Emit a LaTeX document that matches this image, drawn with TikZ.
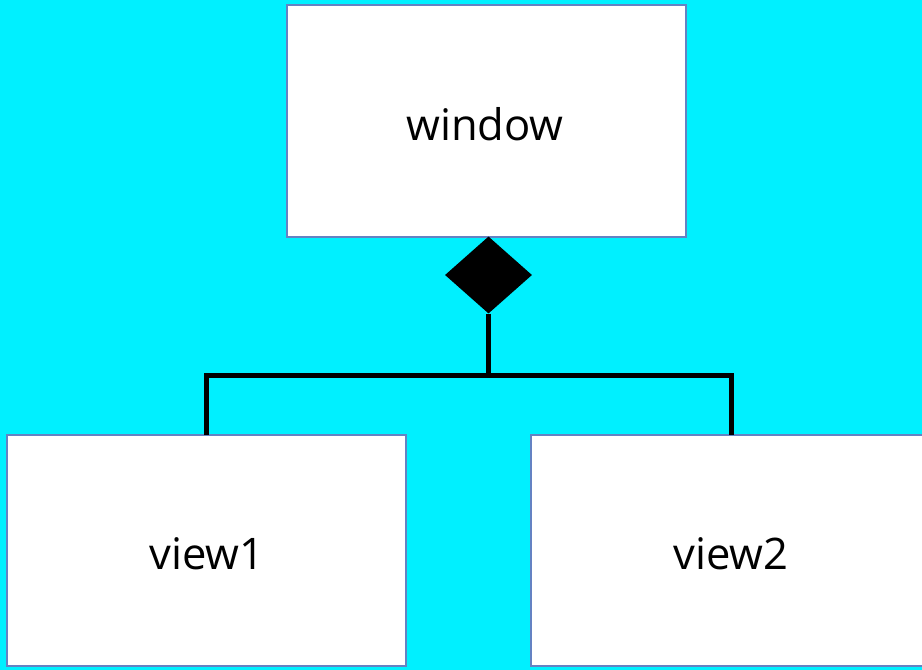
\documentclass[tikz,border=0pt]{standalone}
\usepackage{fontspec}
\setmainfont{Open Sans}
\usetikzlibrary{shapes.geometric}
\definecolor{bgcyan}{RGB}{0,240,255}
\definecolor{edgeblue}{RGB}{100,130,195}
\begin{document}
\begin{tikzpicture}[x=1pt,y=-1pt,
  box/.style={draw=edgeblue,line width=2.2pt,fill=white},
  lbl/.style={font=\fontsize{43.5}{52}\selectfont,anchor=base,inner sep=0pt},
  conn/.style={line width=5pt,line cap=butt,line join=miter}]
\fill[bgcyan] (0,0) rectangle (922,670);
\useasboundingbox (0,0) rectangle (922,670);
\draw[box] (287,5) rectangle (686,237);
\node[lbl] (window) at (485,140) {window};
\draw[box] (7,435) rectangle (406,666);
\node[lbl] (view1) at (207,569) {view1};
\draw[box] (531,435) rectangle (930,666);
\node[lbl] (view2) at (731,569) {view2};
\node[diamond,fill=black,minimum width=87pt,minimum height=77pt,inner sep=0pt] (dia) at (488.5,275) {};
\coordinate (j) at (488.5,375.5);
\coordinate (l) at (206.5,375.5);
\coordinate (r) at (731.5,375.5);
\draw[conn] (dia.south) -- (j);
\draw[conn] (206.5,435) -- (l) -- (r) -- (731.5,435);
\end{tikzpicture}
\end{document}
